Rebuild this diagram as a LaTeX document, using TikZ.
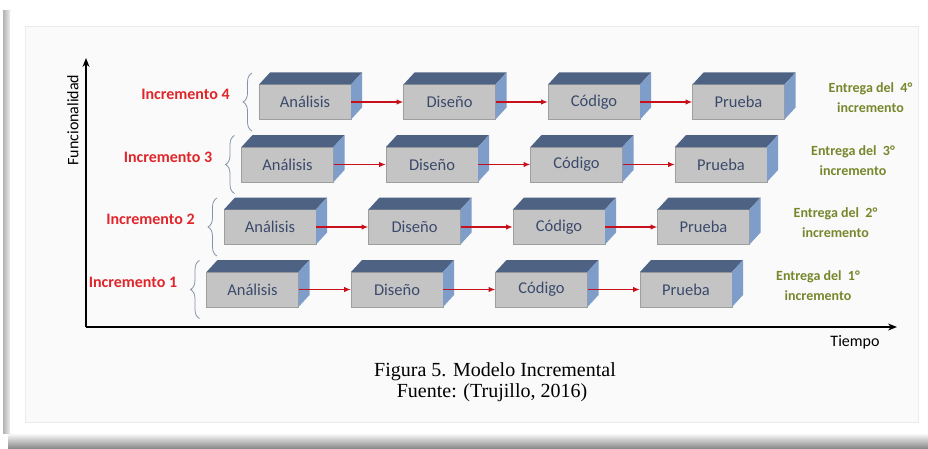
\documentclass[tikz,border=0pt]{standalone}
\usepackage{fontspec}
\setmainfont{Liberation Serif}
\newfontfamily\calibri{Carlito}
\usetikzlibrary{calc,arrows.meta,decorations.pathreplacing}
\definecolor{cajafrente}{HTML}{C4C4C4}
\definecolor{cajaborde}{HTML}{9E9E9E}
\definecolor{cajatapa}{HTML}{4E6383}
\definecolor{cajalado}{HTML}{7F9DC9}
\definecolor{cajatexto}{HTML}{3B4A6B}
\definecolor{rojoinc}{HTML}{E0262B}
\definecolor{rojoflecha}{HTML}{C8101A}
\definecolor{oliva}{HTML}{76872C}
\definecolor{llave}{HTML}{8593A8}

\begin{document}
\begin{tikzpicture}[x=1pt,y=1pt,
  caja/.style={draw=cajaborde,fill=cajafrente,minimum width=92pt,minimum height=35pt,
    inner sep=0pt,outer sep=0pt,text=cajatexto,font=\calibri\fontsize{16.5}{19}\selectfont},
  tapa/.style={fill=cajatapa},
  lado/.style={fill=cajalado},
  flecha/.style={draw=rojoflecha,line width=1.5pt,-{Latex[length=7pt,width=5.5pt]}},
  incremento/.style={text=rojoinc,font=\calibri\bfseries\fontsize{16}{19}\selectfont},
  entrega/.style={text=oliva,align=center,font=\calibri\bfseries\fontsize{14}{20}\selectfont},
  corchete/.style={draw=llave,line width=0.8pt,decorate,decoration={brace,amplitude=9pt}},
  eje/.style={line width=1.2pt,-{Stealth[length=9pt,width=7pt]}}]
\useasboundingbox (0,0) rectangle (928,448);
\fill[white] (0,0) rectangle (928,448);
\shade[top color=white,bottom color=black!45] (8,0) rectangle (928,15);
\shade[left color=black!30,right color=white] (3,15) rectangle (12,437);
\fill[white] (10,15) rectangle (928,437);
\draw[black!8,fill=black!2] (25,26) rectangle (918,422);
\coordinate (origen) at (86,121);
\coordinate (ytope) at (86,390);
\coordinate (xfin) at (897,121);
\draw[eje] (origen) -- (ytope);
\draw[eje] (origen) -- (xfin);
\node[rotate=90,font=\calibri\fontsize{16}{19}\selectfont] (func) at (73,328) {Funcionalidad};
\node[font=\calibri\fontsize{16}{19}\selectfont] (tiempo) at (855,106) {Tiempo};
\node[font=\fontsize{20}{21}\selectfont] (fig) at (495,76) {Figura 5. Modelo Incremental};
\node[font=\fontsize{20}{21}\selectfont] (fuente) at (492,55) {Fuente: (Trujillo, 2016)};
\begin{scope}
\node[caja] (a1) at (252.5,158.5) {Análisis};
\node[caja] (d1) at (397,158.5) {Diseño};
\node[caja] (c1) at (541.5,158.5) {Código};
\node[caja] (p1) at (686,158.5) {Prueba};
\fill[tapa] (a1.north west) -- ++(11,12) -- ($(a1.north east)+(11,12)$) -- (a1.north east) -- cycle;
\fill[lado] (a1.north east) -- ++(11,12) -- ($(a1.south east)+(11,12)$) -- (a1.south east) -- cycle;
\fill[tapa] (d1.north west) -- ++(11,12) -- ($(d1.north east)+(11,12)$) -- (d1.north east) -- cycle;
\fill[lado] (d1.north east) -- ++(11,12) -- ($(d1.south east)+(11,12)$) -- (d1.south east) -- cycle;
\fill[tapa] (c1.north west) -- ++(11,12) -- ($(c1.north east)+(11,12)$) -- (c1.north east) -- cycle;
\fill[lado] (c1.north east) -- ++(11,12) -- ($(c1.south east)+(11,12)$) -- (c1.south east) -- cycle;
\fill[tapa] (p1.north west) -- ++(11,12) -- ($(p1.north east)+(11,12)$) -- (p1.north east) -- cycle;
\fill[lado] (p1.north east) -- ++(11,12) -- ($(p1.south east)+(11,12)$) -- (p1.south east) -- cycle;
\draw[flecha] (a1.east) -- (d1.west);
\draw[flecha] (d1.east) -- (c1.west);
\draw[flecha] (c1.east) -- (p1.west);
\draw[corchete] ([shift={(-7,-29)}]a1.west) -- ([shift={(-7,29)}]a1.west);
\node[incremento] (inc1) at (133,166) {Incremento 1};
\node[entrega] (ent1) at (818,162.5) {Entrega del~ 1°\\incremento};
\end{scope}
\begin{scope}[shift={(17.5,62.5)}]
\node[caja] (a2) at (252.5,158.5) {Análisis};
\node[caja] (d2) at (397,158.5) {Diseño};
\node[caja] (c2) at (541.5,158.5) {Código};
\node[caja] (p2) at (686,158.5) {Prueba};
\fill[tapa] (a2.north west) -- ++(11,12) -- ($(a2.north east)+(11,12)$) -- (a2.north east) -- cycle;
\fill[lado] (a2.north east) -- ++(11,12) -- ($(a2.south east)+(11,12)$) -- (a2.south east) -- cycle;
\fill[tapa] (d2.north west) -- ++(11,12) -- ($(d2.north east)+(11,12)$) -- (d2.north east) -- cycle;
\fill[lado] (d2.north east) -- ++(11,12) -- ($(d2.south east)+(11,12)$) -- (d2.south east) -- cycle;
\fill[tapa] (c2.north west) -- ++(11,12) -- ($(c2.north east)+(11,12)$) -- (c2.north east) -- cycle;
\fill[lado] (c2.north east) -- ++(11,12) -- ($(c2.south east)+(11,12)$) -- (c2.south east) -- cycle;
\fill[tapa] (p2.north west) -- ++(11,12) -- ($(p2.north east)+(11,12)$) -- (p2.north east) -- cycle;
\fill[lado] (p2.north east) -- ++(11,12) -- ($(p2.south east)+(11,12)$) -- (p2.south east) -- cycle;
\draw[flecha] (a2.east) -- (d2.west);
\draw[flecha] (d2.east) -- (c2.west);
\draw[flecha] (c2.east) -- (p2.west);
\draw[corchete] ([shift={(-7,-29)}]a2.west) -- ([shift={(-7,29)}]a2.west);
\node[incremento] (inc2) at (133,166) {Incremento 2};
\node[entrega] (ent2) at (818,162.5) {Entrega del~ 2°\\incremento};
\end{scope}
\begin{scope}[shift={(35,125)}]
\node[caja] (a3) at (252.5,158.5) {Análisis};
\node[caja] (d3) at (397,158.5) {Diseño};
\node[caja] (c3) at (541.5,158.5) {Código};
\node[caja] (p3) at (686,158.5) {Prueba};
\fill[tapa] (a3.north west) -- ++(11,12) -- ($(a3.north east)+(11,12)$) -- (a3.north east) -- cycle;
\fill[lado] (a3.north east) -- ++(11,12) -- ($(a3.south east)+(11,12)$) -- (a3.south east) -- cycle;
\fill[tapa] (d3.north west) -- ++(11,12) -- ($(d3.north east)+(11,12)$) -- (d3.north east) -- cycle;
\fill[lado] (d3.north east) -- ++(11,12) -- ($(d3.south east)+(11,12)$) -- (d3.south east) -- cycle;
\fill[tapa] (c3.north west) -- ++(11,12) -- ($(c3.north east)+(11,12)$) -- (c3.north east) -- cycle;
\fill[lado] (c3.north east) -- ++(11,12) -- ($(c3.south east)+(11,12)$) -- (c3.south east) -- cycle;
\fill[tapa] (p3.north west) -- ++(11,12) -- ($(p3.north east)+(11,12)$) -- (p3.north east) -- cycle;
\fill[lado] (p3.north east) -- ++(11,12) -- ($(p3.south east)+(11,12)$) -- (p3.south east) -- cycle;
\draw[flecha] (a3.east) -- (d3.west);
\draw[flecha] (d3.east) -- (c3.west);
\draw[flecha] (c3.east) -- (p3.west);
\draw[corchete] ([shift={(-7,-29)}]a3.west) -- ([shift={(-7,29)}]a3.west);
\node[incremento] (inc3) at (133,166) {Incremento 3};
\node[entrega] (ent3) at (818,162.5) {Entrega del~ 3°\\incremento};
\end{scope}
\begin{scope}[shift={(52.5,187.5)}]
\node[caja] (a4) at (252.5,158.5) {Análisis};
\node[caja] (d4) at (397,158.5) {Diseño};
\node[caja] (c4) at (541.5,158.5) {Código};
\node[caja] (p4) at (686,158.5) {Prueba};
\fill[tapa] (a4.north west) -- ++(11,12) -- ($(a4.north east)+(11,12)$) -- (a4.north east) -- cycle;
\fill[lado] (a4.north east) -- ++(11,12) -- ($(a4.south east)+(11,12)$) -- (a4.south east) -- cycle;
\fill[tapa] (d4.north west) -- ++(11,12) -- ($(d4.north east)+(11,12)$) -- (d4.north east) -- cycle;
\fill[lado] (d4.north east) -- ++(11,12) -- ($(d4.south east)+(11,12)$) -- (d4.south east) -- cycle;
\fill[tapa] (c4.north west) -- ++(11,12) -- ($(c4.north east)+(11,12)$) -- (c4.north east) -- cycle;
\fill[lado] (c4.north east) -- ++(11,12) -- ($(c4.south east)+(11,12)$) -- (c4.south east) -- cycle;
\fill[tapa] (p4.north west) -- ++(11,12) -- ($(p4.north east)+(11,12)$) -- (p4.north east) -- cycle;
\fill[lado] (p4.north east) -- ++(11,12) -- ($(p4.south east)+(11,12)$) -- (p4.south east) -- cycle;
\draw[flecha] (a4.east) -- (d4.west);
\draw[flecha] (d4.east) -- (c4.west);
\draw[flecha] (c4.east) -- (p4.west);
\draw[corchete] ([shift={(-7,-29)}]a4.west) -- ([shift={(-7,29)}]a4.west);
\node[incremento] (inc4) at (133,166) {Incremento 4};
\node[entrega] (ent4) at (818,162.5) {Entrega del~ 4°\\incremento};
\end{scope}
\end{tikzpicture}
\end{document}
